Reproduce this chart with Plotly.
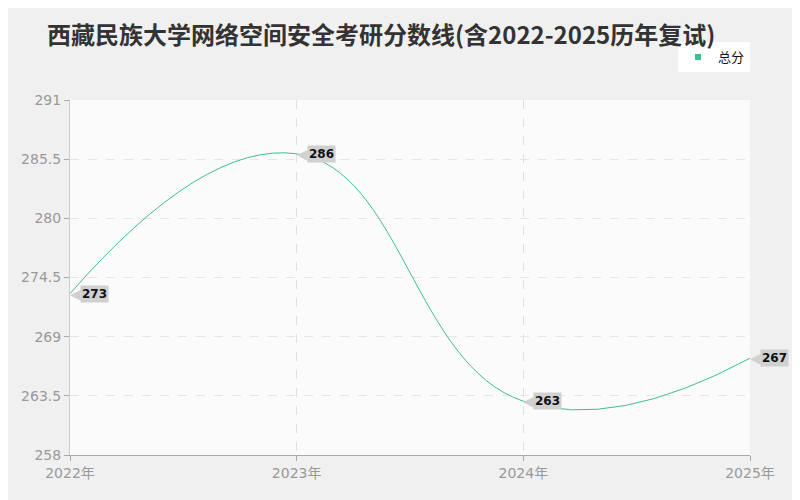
import plotly.graph_objects as go

# data
years = [2022, 2023, 2024, 2025]
year_labels = ["2022年", "2023年", "2024年", "2025年"]
scores = [273, 286, 263, 267]
y_ticks = [258, 263.5, 269, 274.5, 280, 285.5, 291]

cjk = "Noto Sans CJK SC"
num_font = "DejaVu Sans, Noto Sans CJK SC"
line_color = "#3dbf8f"

fig = go.Figure()

fig.add_trace(go.Scatter(
    x=years,
    y=scores,
    mode="lines",
    name="总分",
    line=dict(color=line_color, width=1, shape="spline", smoothing=1.3),
    showlegend=False,
))

# legend entry (square marker)
fig.add_trace(go.Scatter(
    x=[None], y=[None],
    mode="markers",
    name="总分",
    marker=dict(color=line_color, symbol="square", size=6),
))

# value labels with little arrow box
for x, y in zip(years, scores):
    fig.add_annotation(
        x=x, y=y, text="<b>%d</b>" % y,
        showarrow=False, xanchor="left", yanchor="middle",
        xshift=10, bgcolor="#d0d0d0", borderpad=1,
        font=dict(size=12, color="#111", family=num_font),
    )
    fig.add_annotation(
        x=x, y=y, text="◀", showarrow=False, xanchor="left", yanchor="middle",
        xshift=-2, font=dict(size=14, color="#d0d0d0", family=num_font),
    )

fig.update_layout(
    width=800, height=500,
    paper_bgcolor="#f0f0f0",
    plot_bgcolor="#fbfbfb",
    font=dict(family=num_font, color="#999"),
    margin=dict(l=62, r=58, t=92, b=53),
    title=dict(
        text="<b>西藏民族大学网络空间安全考研分数线(含2022-2025历年复试)</b>",
        x=39 / 800, xanchor="left", y=1 - 28 / 500, yanchor="middle",
        font=dict(size=24, color="#333", family=cjk),
    ),
    legend=dict(
        x=1.0, y=1.163, xanchor="right", yanchor="top",
        bgcolor="#ffffff", font=dict(size=13, color="#111", family=cjk),
        itemwidth=30, borderwidth=0,
    ),
    xaxis=dict(
        range=[2022, 2025], tickvals=years, ticktext=year_labels,
        showgrid=True, gridcolor="#e0e0e0", griddash="dash",
        showline=True, linecolor="#aaa", ticks="outside", ticklen=5,
        tickcolor="#aaa", tickfont=dict(size=14, color="#999"),
        zeroline=False,
    ),
    yaxis=dict(
        range=[258, 291], tickvals=y_ticks,
        showgrid=True, gridcolor="#e6e6e6", griddash="dash",
        showline=True, linecolor="#ccc", ticks="outside", ticklen=5,
        tickcolor="#aaa", tickfont=dict(size=14, color="#999"),
        zeroline=False,
    ),
)

fig.write_html("out.html")
